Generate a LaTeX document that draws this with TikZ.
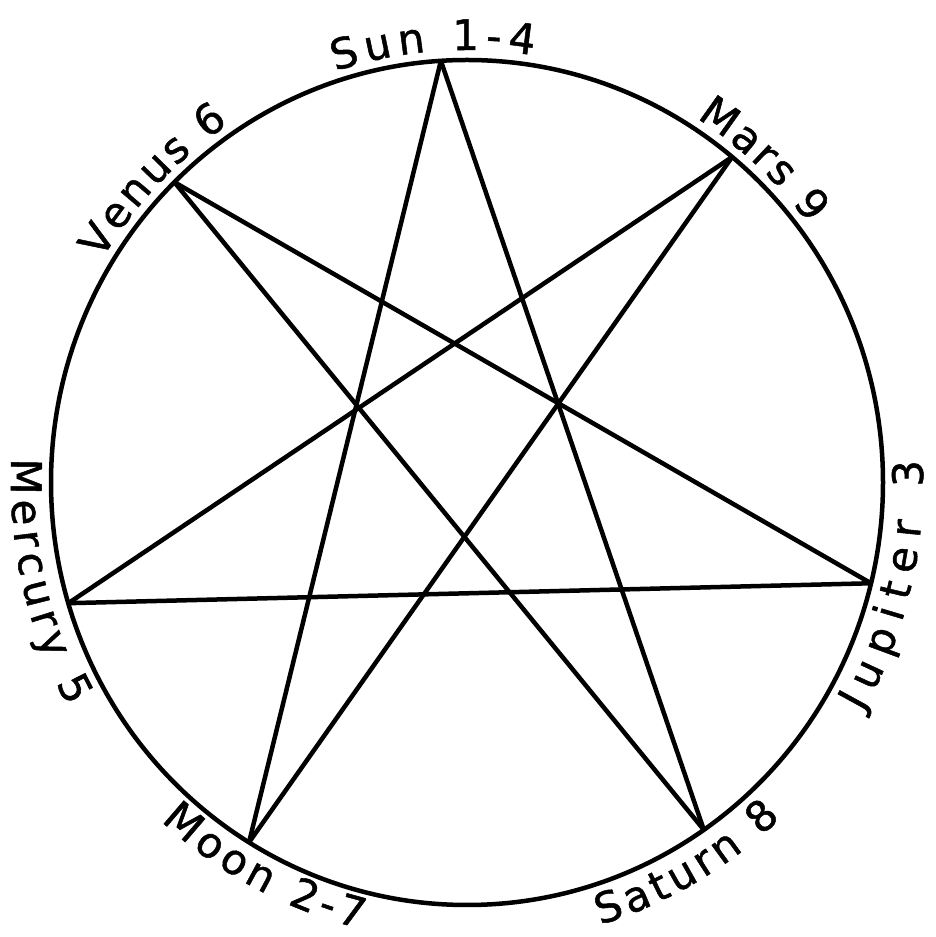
\documentclass[tikz,border=0pt]{standalone}
\usepackage{fontspec}
\usetikzlibrary{decorations.text}
\newfontfamily\labfam{DejaVu Sans}[FakeBold=1.2]
\newcommand\labfont{\labfam\fontsize{42}{46}\selectfont}
\tikzset{
  ink/.style={line width=4.5pt, black, line join=round},
  arclabel/.style={decorate, decoration={text along path, text align={fit to path}, text={|\labfont|#1}}},
}
\begin{document}
\begin{tikzpicture}[x=1pt,y=1pt]
\useasboundingbox (0,0) rectangle (935,937);
\coordinate (O) at (467,454.5);
% circle
\draw[ink] (O) ellipse [x radius=416pt, y radius=422.5pt];
% points
\path (O) ++(93.6:416pt and 422.5pt) coordinate (sun);
\path (O) ++(50.4:416pt and 422.5pt) coordinate (mars);
\path (O) ++(-13.8:416pt and 422.5pt) coordinate (jupiter);
\path (O) ++(-55.3:416pt and 422.5pt) coordinate (saturn);
\path (O) ++(238.4:416pt and 422.5pt) coordinate (moon);
\path (O) ++(196.6:416pt and 422.5pt) coordinate (mercury);
\path (O) ++(134.7:416pt and 422.5pt) coordinate (venus);
% heptagram
\draw[ink] (sun) -- (saturn);
\draw[ink] (sun) -- (moon);
\draw[ink] (mars) -- (moon);
\draw[ink] (mars) -- (mercury);
\draw[ink] (jupiter) -- (mercury);
\draw[ink] (jupiter) -- (venus);
\draw[ink] (saturn) -- (venus);
% labels (top: clockwise, bottom: counter-clockwise)
\path[arclabel={Sun 1-4}] (O) ++(108:426pt and 432.5pt) arc[start angle=108, end angle=81, x radius=426pt, y radius=432.5pt];
\path[arclabel={Venus 6}] (O) ++(149:426pt and 432.5pt) arc[start angle=149, end angle=124, x radius=426pt, y radius=432.5pt];
\path[arclabel={Mars 9}] (O) ++(57.4:426pt and 432.5pt) arc[start angle=57.4, end angle=36.7, x radius=426pt, y radius=432.5pt];
\path[arclabel={Jupiter 3}] (O) ++(-29.8:456pt and 462.5pt) arc[start angle=-29.8, end angle=2.8, x radius=456pt, y radius=462.5pt];
\path[arclabel={Saturn 8}] (O) ++(-73:456pt and 462.5pt) arc[start angle=-73, end angle=-46.5, x radius=456pt, y radius=462.5pt];
\path[arclabel={Moon 2-7}] (O) ++(227.5:453pt and 459pt) arc[start angle=227.5, end angle=256.5, x radius=453pt, y radius=459pt];
\path[arclabel={Mercury 5}] (O) ++(177:456pt and 462.5pt) arc[start angle=177, end angle=209, x radius=456pt, y radius=462.5pt];
\end{tikzpicture}
\end{document}
